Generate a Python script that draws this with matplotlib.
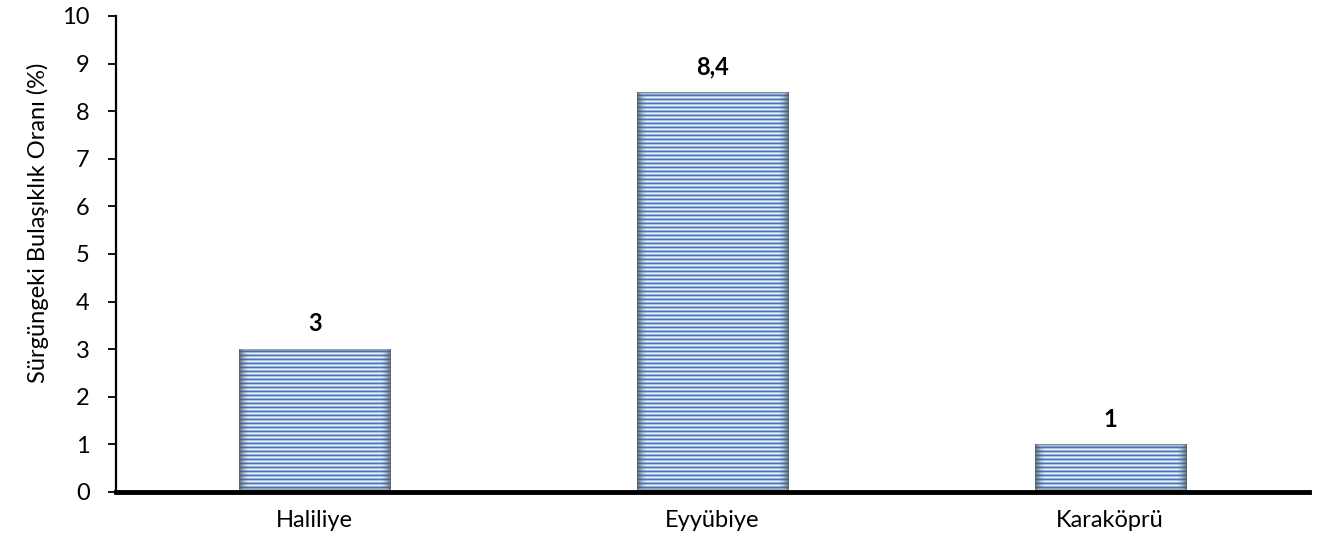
import numpy as np
import matplotlib
matplotlib.use("Agg")
import matplotlib.pyplot as plt

categories = ["Haliliye", "Eyyübiye", "Karaköprü"]
values = [3.0, 8.4, 1.0]
value_labels = ["3", "8,4", "1"]
y_ticks = [0, 1, 2, 3, 4, 5, 6, 7, 8, 9, 10]

plt.rcParams["font.family"] = ["Lato", "DejaVu Sans"]
FS = 17

fig = plt.figure(figsize=(13.22, 5.48), dpi=100)
ax = fig.add_axes([116 / 1322, 1 - 492 / 548, (1309 - 116) / 1322, (492 - 16) / 548])

x = np.arange(len(categories))
bar_w = 0.38
bars = ax.bar(x, values, width=bar_w, facecolor="none", edgecolor="none", zorder=2)

ax.set_xlim(-0.5, len(categories) - 0.5)
ax.set_ylim(0, 10)
ax.set_yticks(y_ticks)
ax.set_xticks(x)
ax.set_xticklabels(categories, fontsize=FS)
ax.tick_params(axis="x", length=0, pad=13)
ax.tick_params(axis="y", length=6, width=1.3, labelsize=FS, pad=13, direction="out")

for s in ["top", "right"]:
    ax.spines[s].set_visible(False)
ax.spines["left"].set_linewidth(1.6)
ax.spines["bottom"].set_linewidth(3.5)
ax.spines["bottom"].set_zorder(5)

fig.text(38 / 1322, 1 - 223 / 548, "Sürgüngeki Bulaşıklık Oranı (%)", fontsize=FS,
         rotation=90, ha="center", va="center")

# striped fill texture with soft dark rim, one image per bar
stripe_rows = np.array([
    [72, 118, 184],
    [150, 180, 220],
    [232, 239, 248],
    [170, 194, 228],
], dtype=float) / 255.0
rim = np.array([80, 92, 105], dtype=float) / 255.0

fig.canvas.draw()
for rect in bars:
    x0, y0 = rect.get_x(), rect.get_y()
    w, h = rect.get_width(), rect.get_height()
    p0 = ax.transData.transform((x0, y0))
    p1 = ax.transData.transform((x0 + w, y0 + h))
    ncol = max(int(round(p1[0] - p0[0])), 2)
    nrow = max(int(round(p1[1] - p0[1])), 2)
    idx = np.arange(nrow) % len(stripe_rows)
    img = np.repeat(stripe_rows[idx][:, None, :], ncol, axis=1)
    # horizontal edge darkening
    cx = np.arange(ncol)
    dist_x = np.minimum(cx, ncol - 1 - cx)
    fx = np.clip(1 - dist_x / 10.0, 0, 1) ** 1.6 * 0.85
    # top and bottom darkening
    ry = np.arange(nrow)
    fy_top = np.clip(1 - ry / 5.0, 0, 1) ** 1.3 * 0.9
    fy_bot = np.clip(1 - (nrow - 1 - ry) / 4.0, 0, 1) ** 1.3 * 0.5
    fy = np.maximum(fy_top, fy_bot)
    f = np.maximum(fx[None, :], fy[:, None])[..., None]
    img = img * (1 - f) + rim * f
    im = ax.imshow(img, extent=(x0, x0 + w, y0 + h, y0), origin="upper",
                   aspect="auto", interpolation="nearest", zorder=2)
    im.set_clip_path(rect)

ax.set_xlim(-0.5, len(categories) - 0.5)
ax.set_ylim(0, 10)

for xi, v, lab in zip(x, values, value_labels):
    ax.annotate(lab, (xi, v), xytext=(0, 10), textcoords="offset points",
                ha="center", va="bottom", fontsize=FS, fontweight="bold")

fig.savefig("out.png", dpi=100)
